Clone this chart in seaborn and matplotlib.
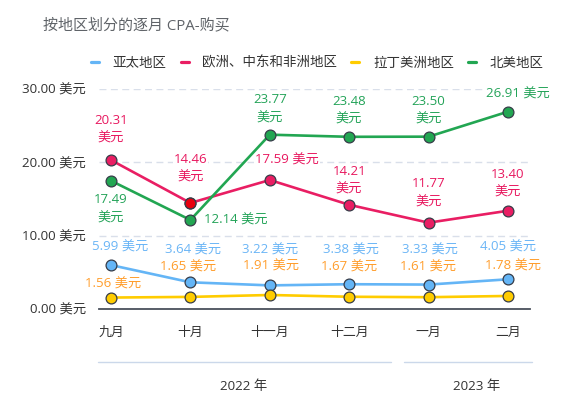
import pandas as pd
import seaborn as sns
import matplotlib.pyplot as plt
from matplotlib.lines import Line2D
from matplotlib.transforms import blended_transform_factory

sns.set_theme(style="white")
plt.rcParams['font.family'] = ['Open Sans', 'Noto Sans CJK SC', 'DejaVu Sans']

# 数据
months = ["九月", "十月", "十一月", "十二月", "一月", "二月"]
regions = ["亚太地区", "欧洲、中东和非洲地区", "拉丁美洲地区", "北美地区"]
apac = [5.99, 3.64, 3.22, 3.38, 3.33, 4.05]
emea = [20.31, 14.46, 17.59, 14.21, 11.77, 13.40]
latam = [1.56, 1.65, 1.91, 1.67, 1.61, 1.78]
na = [17.49, 12.14, 23.77, 23.48, 23.50, 26.91]
years = ["2022 年", "2023 年"]
y_ticks = [0, 10, 20, 30]

line_colors = {"亚太地区": "#64b5f6", "欧洲、中东和非洲地区": "#e91e63",
               "拉丁美洲地区": "#ffcc00", "北美地区": "#22a652"}
label_colors = {"亚太地区": "#6ab5f6", "欧洲、中东和非洲地区": "#e8185f",
                "拉丁美洲地区": "#ff9d2b", "北美地区": "#23a358"}

# 数据标签的位置（像素偏移，是否两行）
label_layout = {
    "亚太地区": ([(9, 18), (3, 32), (0, 35), (2, 34), (1, 34.5), (0, 32)], [False] * 6),
    "欧洲、中东和非洲地区": ([(0, 31), (0, 34.5), (17, 20), (0, 24.5), (0, 30), (0, 27.5)],
                    [True, True, False, True, True, True]),
    "拉丁美洲地区": ([(2, 13.5), (-2, 30), (1, 28.5), (0, 30), (-1, 30.5), (5, 29.5)], [False] * 6),
    "北美地区": ([(0, -28), (45, 0), (0, 26), (0, 26.5), (0, 26.5), (10, 18)],
             [True, False, True, True, True, False]),
}

series = {"亚太地区": apac, "欧洲、中东和非洲地区": emea, "拉丁美洲地区": latam, "北美地区": na}
rows = []
for reg, vals in series.items():
    for i, v in enumerate(vals):
        rows.append({"idx": i, "月份": months[i], "地区": reg, "CPA": v})
df = pd.DataFrame(rows)

fig = plt.figure(figsize=(5.82, 4.08), dpi=100)
ax = fig.add_axes([99 / 582, 99 / 408, 431 / 582, 220 / 408])

sns.lineplot(data=df, x="idx", y="CPA", hue="地区", hue_order=regions, palette=line_colors,
             marker="o", markersize=7.8, markeredgecolor="#363c48", markeredgewidth=0.9,
             linewidth=1.9, legend=False, sort=False, ax=ax, zorder=3)
# 十月的欧洲点高亮
ax.plot(1, emea[1], "o", color="#e8000f", markersize=7.8, markeredgecolor="#363c48",
        markeredgewidth=0.9, zorder=4)

for reg in regions:
    offs, two = label_layout[reg]
    for i, v in enumerate(series[reg]):
        txt = f"{v:.2f}\n美元" if two[i] else f"{v:.2f} 美元"
        ax.annotate(txt, (i, v), xytext=offs[i], textcoords="offset pixels",
                    ha="center", va="center", fontsize=9.5, color=label_colors[reg],
                    linespacing=1.5, zorder=2,
                    bbox=dict(fc="white", ec="none", pad=0.6))

ax.set_xlim(-0.151, 5.277)
ax.set_ylim(0, 30)
ax.set_yticks(y_ticks, [f"{t:.2f} 美元" for t in y_ticks])
ax.set_xticks(range(len(months)), months)
ax.set_xlabel("")
ax.set_ylabel("")
ax.yaxis.grid(True, linestyle=(0, (5, 3.2)), color="#d9dfea", linewidth=1.0, zorder=0)
ax.set_axisbelow(True)
for s in ["top", "right", "left"]:
    ax.spines[s].set_visible(False)
ax.spines["bottom"].set_color("#4a505c")
ax.spines["bottom"].set_linewidth(1.3)
ax.spines["bottom"].set_zorder(5)
ax.tick_params(axis="y", length=0, pad=9.5, labelsize=9.6, labelcolor="#333333")
ax.tick_params(axis="x", length=0, pad=12, labelsize=9.3, labelcolor="#333333")

# 年份分组
tr = blended_transform_factory(ax.transData, fig.transFigure)
ax.plot([-0.164, 3.53], [0.1127, 0.1127], color="#cbd8ea", lw=1.0, transform=tr, clip_on=False)
ax.plot([3.69, 5.30], [0.1127, 0.1127], color="#cbd8ea", lw=1.0, transform=tr, clip_on=False)
ax.text(1.675, 0.052, years[0], transform=tr, ha="center", va="center", fontsize=9.6, color="#333333")
ax.text(4.61, 0.052, years[1], transform=tr, ha="center", va="center", fontsize=9.6, color="#333333")

fig.text(43 / 582, 1 - 26 / 408, "按地区划分的逐月 CPA-购买", ha="left", va="center",
         fontsize=10.8, color="#5f6368")

handles = [Line2D([], [], color=line_colors[r], lw=2.3) for r in regions]
fig.legend(handles, regions, loc="center left", bbox_to_anchor=(91 / 582, 1 - 63 / 408),
           ncol=4, frameon=False, handlelength=0.6, handletextpad=1.0, columnspacing=1.05,
           borderpad=0, borderaxespad=0, fontsize=9.7, labelcolor="#333333")

fig.savefig("out.png", dpi=100)
plt.close(fig)
